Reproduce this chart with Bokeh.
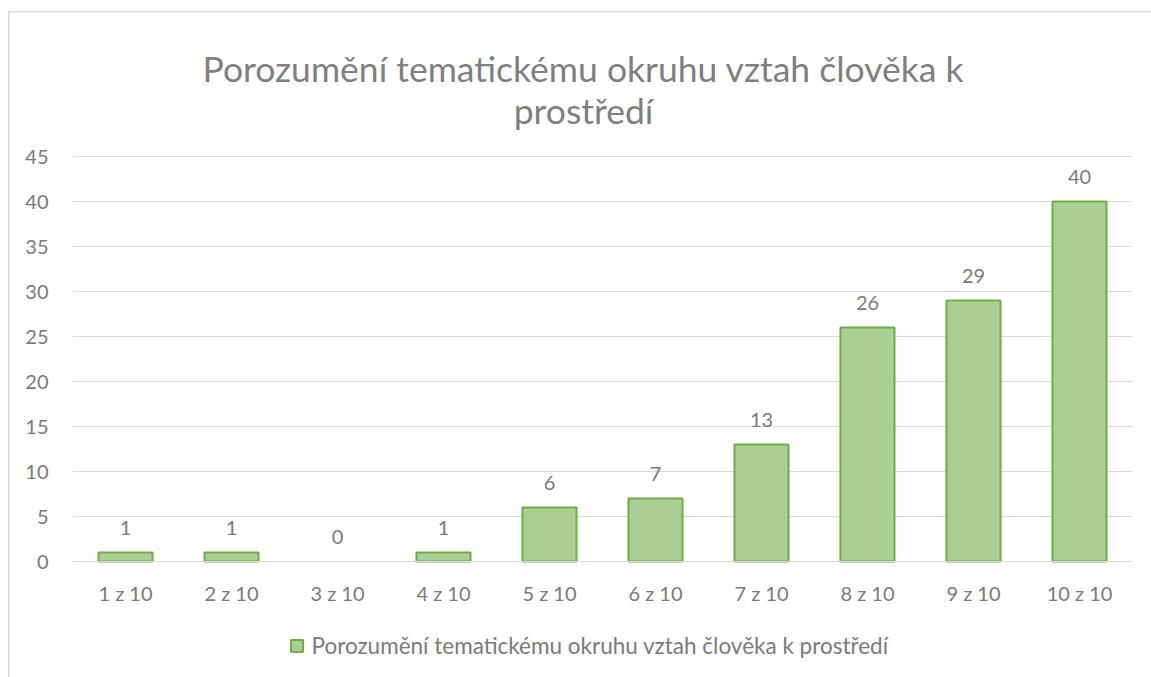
from bokeh.plotting import figure
from bokeh.models import (ColumnDataSource, FactorRange, Range1d, FixedTicker, LabelSet,
                          Label, Legend, LegendItem)
from bokeh.core.properties import value
from bokeh.embed import file_html
from bokeh.resources import INLINE

categories = ["1 z 10", "2 z 10", "3 z 10", "4 z 10", "5 z 10",
              "6 z 10", "7 z 10", "8 z 10", "9 z 10", "10 z 10"]
counts = [1, 1, 0, 1, 6, 7, 13, 26, 29, 40]
y_ticks = [0, 5, 10, 15, 20, 25, 30, 35, 40, 45]
title_lines = ["Porozumění tematickému okruhu vztah člověka k", "prostředí"]
series_name = "Porozumění tematickému okruhu vztah člověka k prostředí"

FONT = "Lato"
TXT = "#7a7a7a"
TITLE_TXT = "#7f7f7f"
W, H = 1151, 677
# pixel geometry of the value axis (frame spans the full height of the canvas)
Y0_PX, YMAX_PX, YMAX = 561, 156, 45
PPU = (Y0_PX - YMAX_PX) / YMAX          # pixels per unit
y_lo = -(H - Y0_PX) / PPU
y_hi = YMAX + YMAX_PX / PPU


def y_at(px):
    """data value found at canvas row px"""
    return YMAX + (YMAX_PX - px) / PPU


p = figure(x_range=FactorRange(*categories), y_range=Range1d(y_lo, y_hi),
           width=W, height=H, output_backend="svg", toolbar_location=None,
           min_border_left=72, min_border_right=19, min_border_top=0,
           min_border_bottom=0)
p.outline_line_color = None
p.background_fill_alpha = 0
p.border_fill_alpha = 0
# outer chart border (left and top edges), drawn behind the transparent canvas
p.styles = {
    "background-color": "white",
    "background-image": "linear-gradient(#d9d9d9, #d9d9d9), linear-gradient(#d9d9d9, #d9d9d9)",
    "background-repeat": "no-repeat",
    "background-position": "8px 11px, 8px 11px",
    "background-size": "1.5px 100%, 100% 1.5px",
}

bar_src = ColumnDataSource(dict(x=[c for c, v in zip(categories, counts) if v > 0],
                                top=[v for v in counts if v > 0]))
lab_src = ColumnDataSource(dict(x=categories, y=counts, t=[str(v) for v in counts]))

bars = p.vbar(x="x", top="top", bottom=0, width=0.51, source=bar_src,
              fill_color="#a9cf94", line_color="#70ad47", line_width=2)

p.add_layout(LabelSet(x="x", y="y", text="t", source=lab_src, y_offset=18,
                      text_align="center", text_baseline="alphabetic",
                      text_font=value(FONT), text_font_size="20px", text_color=TXT))

# axes
p.yaxis.ticker = FixedTicker(ticks=y_ticks)
p.yaxis.axis_line_color = None
p.yaxis.major_tick_line_color = None
p.yaxis.minor_tick_line_color = None
p.yaxis.major_tick_out = 0
p.yaxis.major_tick_in = 0
p.yaxis.major_label_standoff = 24
p.yaxis.major_label_text_font = FONT
p.yaxis.major_label_text_font_size = "20px"
p.yaxis.major_label_text_color = TXT

p.xaxis.fixed_location = 0
p.xaxis.axis_line_color = "#d9d9d9"
p.xaxis.axis_line_width = 1
p.xaxis.major_tick_line_color = None
p.xaxis.minor_tick_line_color = None
p.xaxis.major_tick_out = 0
p.xaxis.major_tick_in = 0
p.xaxis.major_label_standoff = 19
p.xaxis.major_label_text_font = FONT
p.xaxis.major_label_text_font_size = "20px"
p.xaxis.major_label_text_color = TXT

p.xgrid.grid_line_color = None
p.ygrid.grid_line_color = "#d9d9d9"
p.ygrid.grid_line_width = 1

# chart title, two centred lines (baselines at canvas rows 68 and 110)
for txt, row in zip(title_lines, [68, 110]):
    p.add_layout(Label(x=511, x_units="screen", y=y_at(row), text=txt,
                       text_align="center", text_baseline="alphabetic",
                       text_font=FONT, text_font_size="35.5px", text_color=TITLE_TXT))

legend = Legend(items=[LegendItem(label=series_name, renderers=[bars])],
                location=(216.5, 18), orientation="horizontal",
                glyph_width=15, glyph_height=15, label_standoff=8, label_height=15,
                label_text_font=FONT, label_text_font_size="22.5px", label_text_color=TXT,
                padding=0, margin=0, border_line_color=None, background_fill_alpha=0)
p.add_layout(legend, "center")

open("out.html", "w").write(file_html(p, INLINE))
